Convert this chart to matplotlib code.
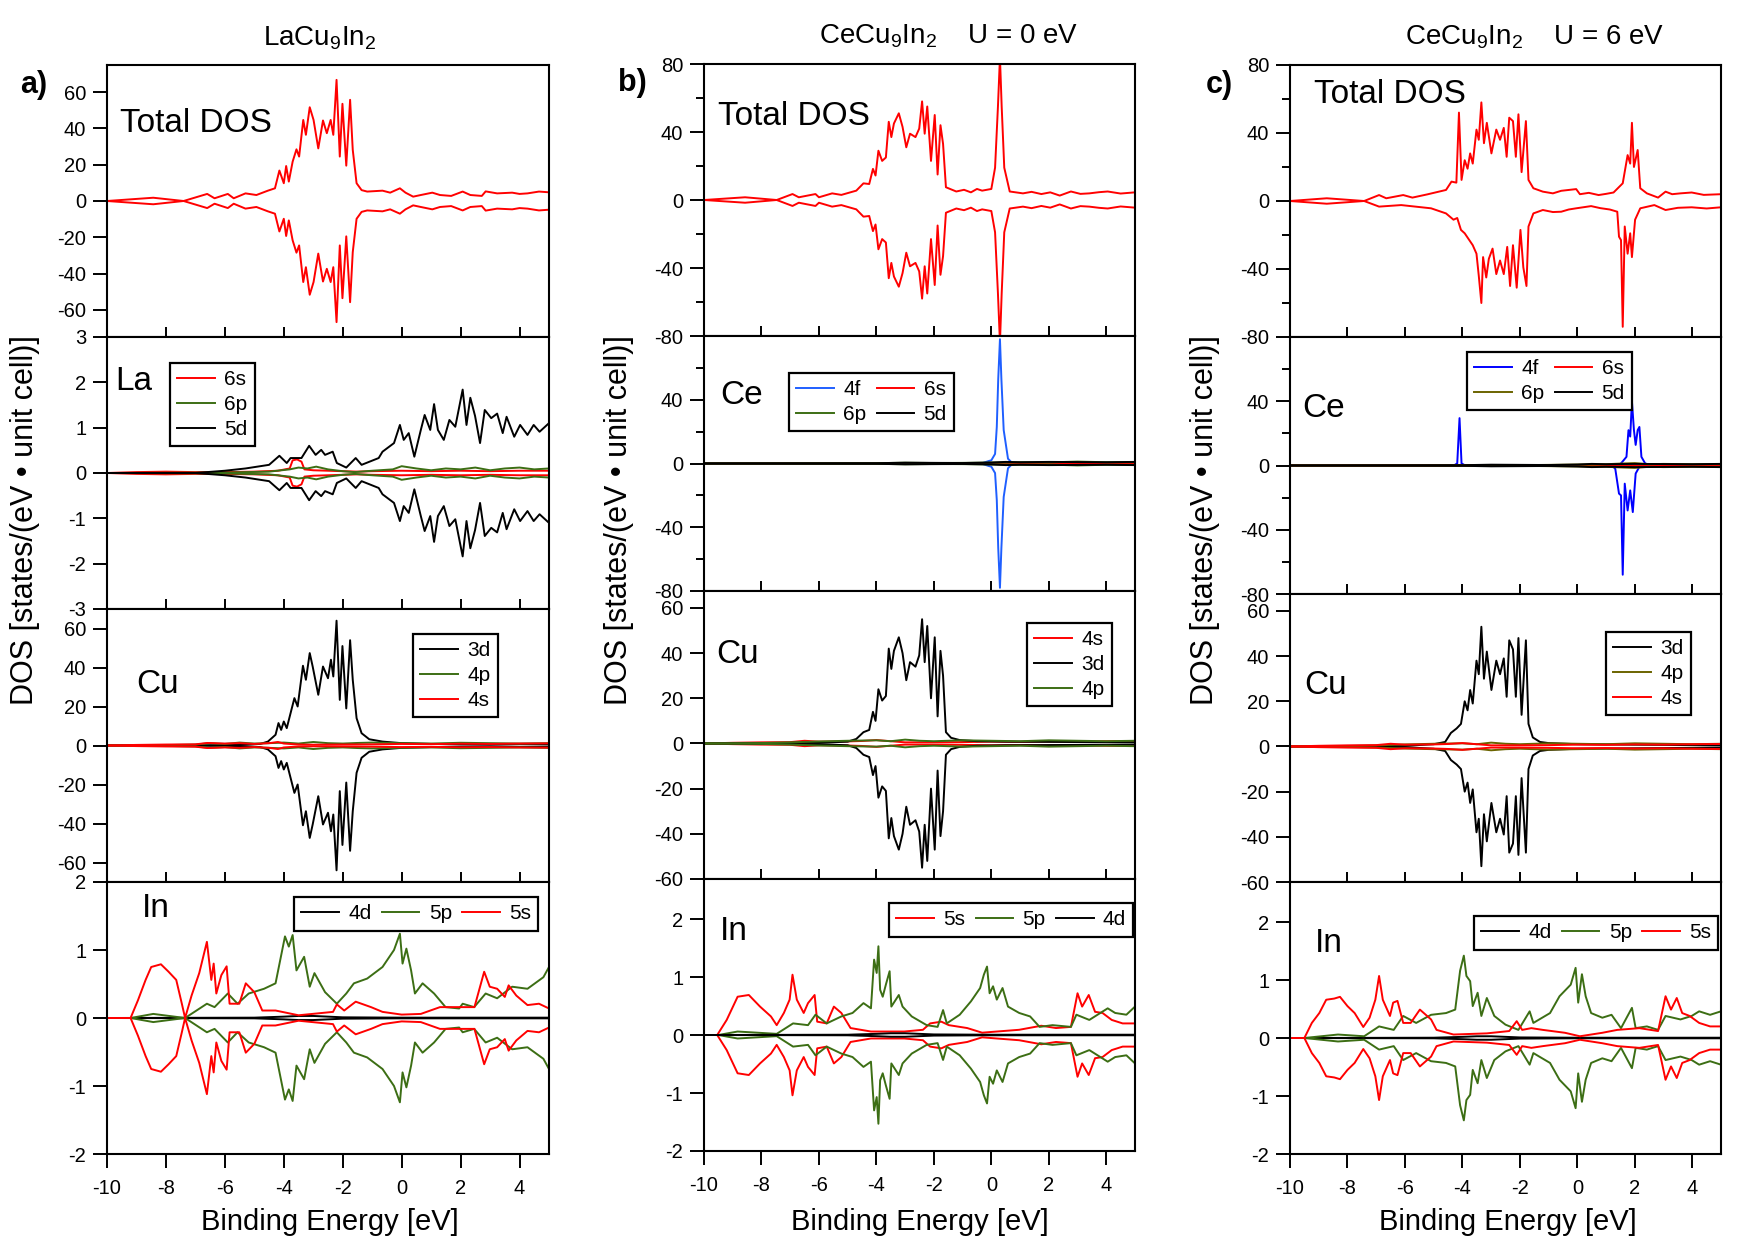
import numpy as np
import matplotlib
matplotlib.use("Agg")
import matplotlib.pyplot as plt

plt.rcParams['font.family'] = ['Liberation Sans', 'DejaVu Sans']
plt.rcParams['mathtext.fontset'] = 'custom'
plt.rcParams['mathtext.rm'] = 'Liberation Sans'
plt.rcParams['mathtext.default'] = 'regular'

# ---------------- data (binding energy in eV, DOS) ----------------
# a) LaCu9In2
A_E_TOT = [-10, -8.43, -7.4, -6.6, -6.35, -5.9, -5.7, -5.3, -4.93, -4.54, -4.3, -4.15, -4.0, -3.92, -3.83, -3.7,
           -3.57, -3.48, -3.34, -3.25, -3.12, -2.99, -2.83, -2.67, -2.54, -2.41, -2.32, -2.21, -2.1, -2.01, -1.88,
           -1.75, -1.66, -1.53, -1.36, -1.17, -0.65, -0.39, -0.06, 0.13, 0.39, 0.65, 1.04, 1.3, 1.68, 2.07, 2.33,
           2.72, 2.85, 3.24, 3.75, 4.0, 4.27, 4.66, 5]
A_TOT = [0, 1.8, 0, 3.9, 1.5, 3.9, 1.5, 4.2, 3.3, 5.7, 7, 16.8, 9.8, 19.3, 10.7, 21.7, 28.5, 24.5, 44.7, 36.5,
         51.7, 44.7, 29, 44.4, 37.4, 44.7, 36.5, 66.8, 24.5, 53.6, 19.5, 55.8, 28.2, 9.8, 6, 5.2, 5.7, 4.6, 7, 4.6,
         2.4, 3.3, 4.6, 3.3, 2.8, 5.2, 3.3, 2.8, 5.3, 4.2, 4.6, 3.9, 4.2, 5.2, 4.8]

A_E_LA5D = [-10, -7, -6, -5.3, -4.5, -4.15, -3.9, -3.77, -3.4, -3.14, -2.92, -2.73, -2.6, -2.34, -2.2, -1.88, -1.56,
            -1.36, -0.78, -0.65, -0.26, -0.06, 0.07, 0.24, 0.43, 0.65, 0.78, 0.97, 1.1, 1.23, 1.43, 1.62, 1.82, 2.07,
            2.2, 2.33, 2.49, 2.66, 2.82, 3.04, 3.24, 3.43, 3.56, 3.82, 4.02, 4.27, 4.48, 4.68, 5]
A_LA5D = [0, 0, 0.05, 0.1, 0.18, 0.38, 0.22, 0.33, 0.33, 0.6, 0.4, 0.51, 0.4, 0.47, 0.22, 0.12, 0.33, 0.18, 0.33,
          0.47, 0.66, 1.06, 0.73, 0.88, 0.36, 0.95, 1.28, 0.95, 1.52, 0.95, 0.73, 1.17, 1.02, 1.84, 1.06, 1.66, 1.26,
          0.66, 1.39, 1.21, 1.31, 0.88, 1.24, 0.8, 1.06, 0.84, 1.06, 0.91, 1.1]
A_E_LA6P = [-10, -6, -4.5, -3.8, -3.5, -3.2, -2.9, -2.5, -2.0, -1.6, -1.0, -0.3, 0.0, 0.5, 1.0, 1.5, 2.0, 2.5, 3.0,
            3.5, 4.0, 4.5, 5]
A_LA6P = [0, 0.01, 0.03, 0.08, 0.12, 0.1, 0.14, 0.08, 0.04, 0.02, 0.05, 0.08, 0.15, 0.1, 0.06, 0.1, 0.08, 0.12,
          0.06, 0.1, 0.12, 0.08, 0.1]
A_E_LA6S = [-10, -9, -8, -7, -6, -5, -4.2, -3.8, -3.7, -3.55, -3.4, -3.3, -3.0, -2.5, -2.0, -1.5, -1.0, 0, 1.0,
            2.0, 3.0, 4.0, 5]
A_LA6S = [0, 0.02, 0.03, 0.02, 0.02, 0.03, 0.05, 0.1, 0.28, 0.3, 0.25, 0.08, 0.06, 0.05, 0.04, 0.03, 0.04, 0.05,
          0.04, 0.05, 0.04, 0.05, 0.05]

A_E_CU3D = [-10, -7, -5.5, -4.8, -4.54, -4.28, -4.18, -4.09, -4.0, -3.9, -3.77, -3.64, -3.53, -3.35, -3.25, -3.12,
            -3.02, -2.83, -2.67, -2.5, -2.4, -2.32, -2.21, -2.1, -2.01, -1.88, -1.75, -1.66, -1.53, -1.36, -1.1,
            -0.65, 0, 1, 2, 3, 4, 5]
A_CU3D = [0, 0.1, 0.3, 0.8, 2, 5.5, 11.5, 8, 12.3, 8.9, 16.6, 24.3, 20, 40.9, 33.7, 47.4, 40.5, 26, 40.5, 34.5,
          44, 35.4, 64, 23.4, 51, 19, 54, 33.7, 14, 6.3, 3.2, 2, 1.2, 0.8, 0.6, 0.5, 0.7, 0.6]
A_E_CU4P = [-10, -8, -7, -6.5, -6, -5.5, -5, -4.5, -4, -3.5, -3, -2.5, -2, -1.5, -1, 0, 1, 2, 3, 4, 5]
A_CU4P = [0, 0.2, 0.5, 1.2, 0.8, 1.5, 1.0, 1.2, 1.5, 1.0, 1.8, 1.2, 1.0, 1.3, 1.5, 1.2, 1.0, 1.4, 1.2, 1.0, 1.2]
A_E_CU4S = [-10, -9, -8, -7, -6.6, -6, -5.5, -5, -4.5, -4.2, -4, -3.5, -3, -2, -1, 0, 1, 2, 3, 4, 5]
A_CU4S = [0, 0.3, 0.5, 0.6, 1.3, 1.0, 1.2, 0.8, 1.2, 1.8, 1.0, 0.5, 0.4, 0.5, 0.6, 0.8, 0.7, 0.9, 0.8, 1.0, 1.1]

A_E_IN5S = [-10, -9.2, -8.95, -8.69, -8.5, -8.17, -7.91, -7.65, -7.46, -7.35, -7.13, -6.87, -6.61, -6.46, -6.38,
            -6.29, -6.12, -5.94, -5.84, -5.51, -5.29, -5.0, -4.73, -4.28, -3.5, -2.33, -2.2, -1.95, -1.56, -1.04,
            -0.65, 0, 0.65, 1.3, 1.95, 2.47, 2.8, 2.99, 3.24, 3.5, 3.63, 3.89, 4.27, 4.66, 5]
A_IN5S = [0, 0, 0.26, 0.56, 0.75, 0.79, 0.68, 0.56, 0.21, 0, 0.33, 0.66, 1.12, 0.56, 0.8, 0.36, 0.63, 0.76, 0.21,
          0.21, 0.51, 0.38, 0.11, 0.11, 0.04, 0.09, 0.2, 0.11, 0.24, 0.16, 0.09, 0.05, 0.06, 0.16, 0.16, 0.16, 0.68,
          0.46, 0.43, 0.31, 0.48, 0.33, 0.19, 0.21, 0.14]
A_E_IN5P = [-10, -9.2, -8.43, -7.35, -6.61, -6.35, -5.9, -5.57, -5.19, -4.67, -4.28, -3.96, -3.83, -3.7, -3.57,
            -3.31, -3.12, -2.96, -2.6, -2.2, -1.88, -1.62, -1.17, -0.65, -0.26, -0.06, 0.03, 0.16, 0.32, 0.45, 0.71,
            1.1, 1.49, 1.95, 2.07, 2.46, 2.85, 3.24, 3.75, 4.27, 4.81, 5]
A_IN5P = [0, 0, 0.06, 0, 0.21, 0.16, 0.36, 0.21, 0.36, 0.43, 0.51, 1.2, 1.05, 1.22, 0.7, 0.9, 0.46, 0.66, 0.38,
          0.21, 0.36, 0.51, 0.58, 0.75, 1.0, 1.24, 0.8, 1.02, 0.7, 0.36, 0.51, 0.36, 0.16, 0.14, 0.21, 0.16, 0.36,
          0.29, 0.46, 0.43, 0.6, 0.75]
IN4D_E = [-10, -5, -4, -3.5, -3, -2.5, -2, 0, 5]
IN4D = [0, 0.005, 0.02, 0.03, 0.03, 0.02, 0.01, 0.005, 0.005]

# b) CeCu9In2, U = 0 eV
B_E_TOT = [-10, -8.57, -7.47, -6.92, -6.7, -6.12, -6.0, -5.54, -5.22, -4.7, -4.45, -4.25, -4.12, -4.03, -3.93,
           -3.8, -3.67, -3.57, -3.48, -3.39, -3.22, -3.09, -2.96, -2.83, -2.64, -2.51, -2.41, -2.32, -2.23, -2.1,
           -1.97, -1.87, -1.77, -1.68, -1.58, -1.22, -0.95, -0.71, -0.5, -0.32, 0, 0.13, 0.23, 0.3, 0.36, 0.45,
           0.64, 0.85, 1.1, 1.4, 1.74, 2.05, 2.38, 2.77, 3.1, 3.41, 3.75, 4.05, 4.5, 5]
B_TOT = [0, 1.6, 0, 3.5, 1.6, 3.5, 1.6, 3.9, 3, 5.5, 9.8, 9.4, 18.3, 14.4, 29, 23, 25, 46, 37, 45, 51, 43, 31, 39,
         37, 42, 58, 39, 55, 23, 50, 15, 44, 33, 7.5, 5, 6, 4.5, 6.5, 5.5, 6.5, 19, 55, 84, 55, 19, 5, 4.5, 3.9,
         4.8, 3.5, 4.5, 2.6, 5, 3.6, 3.9, 4.6, 5, 3.8, 4.5]

B_E_CE4F = [-10, -1, -0.3, -0.1, 0, 0.13, 0.19, 0.24, 0.3, 0.35, 0.43, 0.58, 0.71, 1, 5]
B_CE4F = [0, 0, 0.3, 1.5, 2, 6, 23, 53, 78, 53, 21, 3, 0.6, 0.2, 0]
B_E_CE6S = [-10, -2, 0, 2, 5]
B_CE6S = [0, 0.1, 0.2, 0.1, 0.1]
B_E_CE6P = [-10, -4, -3, -2, -1, 0, 1, 2, 3, 4, 5]
B_CE6P = [0, 0.2, 0.5, 0.3, 0.4, 0.6, 0.8, 0.7, 1.2, 0.8, 0.9]
B_E_CE5D = [-10, -4, -3, -2, -1, 0, 0.5, 1, 2, 3, 4, 5]
B_CE5D = [0, 0.2, 0.5, 0.4, 0.3, 0.6, 1.0, 0.8, 1.0, 0.9, 0.8, 1.0]

B_E_CU3D = [-10, -6, -5, -4.7, -4.45, -4.25, -4.12, -4.03, -3.93, -3.8, -3.67, -3.57, -3.48, -3.39, -3.22, -3.09,
            -2.96, -2.83, -2.64, -2.51, -2.41, -2.32, -2.23, -2.1, -1.97, -1.87, -1.77, -1.68, -1.58, -1.4, -1.1,
            -0.5, 0.5, 5]
B_CU3D = [0, 0.3, 0.8, 2, 5, 6, 14, 10, 24, 19, 21, 42, 33, 41, 47, 40, 28, 36, 34, 39, 55, 36, 52, 20, 47, 12,
          41, 30, 5, 2.5, 1.5, 1.0, 0.8, 0.5]
B_E_CU4S = [-10, -9, -8, -7, -6.5, -6, -5, -4.5, -4, -3, -2, -1, 0, 1, 2, 3, 4, 5]
B_CU4S = [0, 0.3, 0.5, 0.6, 1.2, 0.8, 0.9, 1.1, 1.5, 0.5, 0.5, 0.6, 0.8, 0.7, 0.9, 0.8, 1.0, 1.1]
B_E_CU4P = [-10, -8, -7, -6, -5, -4, -3.5, -3, -2.5, -2, -1, 0, 1, 2, 3, 4, 5]
B_CU4P = [0, 0.2, 0.5, 0.9, 1.2, 1.4, 1.0, 1.7, 1.2, 1.0, 1.4, 1.2, 1.0, 1.4, 1.2, 1.0, 1.2]

B_E_IN5S = [-10, -9.54, -9.21, -8.83, -8.44, -8.05, -7.67, -7.47, -7.22, -7.02, -6.92, -6.77, -6.53, -6.38, -6.15,
            -6.06, -5.73, -5.48, -5.22, -4.9, -4.19, -3.03, -2.38, -2.13, -1.74, -1.48, -0.84, -0.32, 0.19, 0.97,
            1.74, 2.25, 2.77, 3.0, 3.16, 3.39, 3.61, 3.87, 4.19, 4.57, 5]
B_IN5S = [0, 0, 0.26, 0.66, 0.69, 0.49, 0.32, 0.17, 0.38, 0.61, 1.04, 0.61, 0.38, 0.55, 0.69, 0.23, 0.2, 0.49,
          0.38, 0.12, 0.06, 0.06, 0.09, 0.2, 0.23, 0.17, 0.12, 0.04, 0.06, 0.09, 0.16, 0.12, 0.14, 0.72, 0.49, 0.69,
          0.4, 0.38, 0.26, 0.2, 0.2]
B_E_IN5P = [-10, -9.5, -8.83, -7.47, -6.9, -6.38, -6.12, -5.73, -5.22, -4.83, -4.45, -4.19, -4.08, -3.99, -3.93,
            -3.87, -3.78, -3.67, -3.54, -3.48, -3.22, -3.09, -2.77, -2.25, -1.87, -1.68, -1.55, -1.1, -0.71, -0.39,
            -0.26, -0.15, -0.06, 0.06, 0.19, 0.39, 0.58, 0.97, 1.35, 1.68, 2.13, 2.77, 2.96, 3.41, 4.05, 4.31, 4.7, 5]
B_IN5P = [0, 0, 0.06, 0.02, 0.2, 0.17, 0.35, 0.2, 0.32, 0.38, 0.55, 0.46, 1.3, 1.07, 1.53, 0.78, 0.66, 0.87, 1.1,
          0.49, 0.69, 0.49, 0.32, 0.17, 0.14, 0.43, 0.2, 0.35, 0.58, 0.81, 1.04, 1.18, 0.72, 0.84, 0.61, 0.81, 0.49,
          0.38, 0.32, 0.14, 0.17, 0.14, 0.35, 0.26, 0.46, 0.38, 0.35, 0.49]

# c) CeCu9In2, U = 6 eV (spin up and spin down differ)
C_E_TOT_UP = [-10, -8.72, -7.42, -6.9, -6.65, -6.06, -5.74, -5.22, -4.57, -4.38, -4.21, -4.12, -4.03, -3.92, -3.82,
              -3.73, -3.64, -3.51, -3.43, -3.34, -3.25, -3.15, -2.99, -2.82, -2.69, -2.56, -2.46, -2.37, -2.24,
              -2.14, -2.05, -1.94, -1.79, -1.7, -1.53, -1.2, -0.85, -0.56, -0.3, -0.04, 0.09, 0.4, 0.74, 1.0, 1.26,
              1.58, 1.75, 1.84, 1.9, 1.97, 2.1, 2.19, 2.42, 2.81, 3.07, 3.3, 3.59, 3.98, 4.4, 5]
C_TOT_UP = [0, 1.6, 0, 3.5, 1.6, 3.5, 2, 3.9, 6.5, 11.4, 10.8, 52, 12.4, 24, 19, 28, 22, 42, 36, 58, 34, 46, 28,
            42, 36, 43, 26, 49, 47, 26, 51, 17, 47, 12.4, 7.5, 5.5, 4.5, 6, 6.5, 7, 4, 4.8, 3.5, 4.2, 5, 10.4, 27, 22,
            46, 20, 30, 7.5, 4.5, 2, 5.5, 4, 4.5, 5, 3.6, 4]
C_E_TOT_DN = [-10, -8.72, -7.42, -6.9, -6.13, -5.09, -4.57, -4.31, -4.18, -4.05, -3.92, -3.8, -3.64, -3.51, -3.43,
              -3.34, -3.28, -3.17, -3.08, -2.95, -2.82, -2.69, -2.56, -2.44, -2.34, -2.24, -2.11, -1.98, -1.88,
              -1.77, -1.7, -1.53, -1.2, -0.85, -0.56, -0.3, -0.04, 0.48, 0.8, 1.13, 1.39, 1.45, 1.52, 1.58, 1.65,
              1.75, 1.84, 1.9, 2.01, 2.19, 2.68, 3.07, 3.5, 3.98, 4.5, 5]
C_TOT_DN = [0, -1.6, 0, -3.3, -2.4, -4.3, -7.3, -11, -10, -17, -19, -22, -26, -31, -44, -60, -33, -45, -34, -28,
            -43, -35, -43, -27, -50, -26, -51, -17, -39, -50, -15, -7.3, -5.3, -6.5, -6.3, -5, -4.3, -3, -4.2, -5,
            -6.3, -21, -23, -74, -15, -31, -19, -33, -11, -4.3, -2.4, -5.3, -4, -3.7, -4.4, -3.7]

C_E_CE4F_UP = [-10, -4.3, -4.18, -4.1, -4.03, -3.9, 1.4, 1.52, 1.71, 1.78, 1.84, 1.9, 1.97, 2.03, 2.1, 2.16, 2.23,
               2.36, 2.6, 5]
C_CE4F_UP = [0, 0, 1.3, 29.5, 1.3, 0, 0, 1.3, 5.4, 22, 18, 40, 22, 12.8, 22, 24, 5.4, 1.3, 0, 0]
C_E_CE4F_DN = [-10, 1.2, 1.32, 1.45, 1.52, 1.58, 1.65, 1.75, 1.84, 1.93, 2.03, 2.16, 2.4, 5]
C_CE4F_DN = [0, 0, -2, -17.5, -18.6, -68, -11.3, -28, -15.5, -29, -5, -0.8, 0, 0]
C_E_CE6P = [-10, -2, -1, 0, 1, 1.5, 2, 2.5, 3, 4, 5]
C_CE6P = [0, 0.2, 0.4, 0.6, 0.8, 1.2, 1.5, 0.8, 1.0, 0.8, 0.9]

C_E_CU3D = [-10, -6, -5, -4.6, -4.4, -4.2, -4.05, -3.92, -3.82, -3.73, -3.64, -3.51, -3.43, -3.34, -3.25, -3.15,
            -2.99, -2.82, -2.69, -2.56, -2.46, -2.37, -2.24, -2.14, -2.05, -1.94, -1.79, -1.7, -1.55, -1.3, -1.0,
            0, 5]
C_CU3D = [0, 0.3, 1, 2, 6, 8, 10, 20, 16, 25, 19, 38, 32, 53, 30, 42, 25, 38, 32, 39, 22, 47, 43, 22, 48, 14, 47,
          10, 4, 2, 1.5, 1, 0.5]

C_E_IN5S = [-10, -9.5, -9.24, -8.98, -8.74, -8.46, -8.26, -8.0, -7.75, -7.45, -7.23, -7.03, -6.9, -6.77, -6.52,
            -6.41, -6.26, -6.06, -5.8, -5.48, -5.09, -4.9, -4.31, -3.15, -2.37, -2.11, -1.92, -1.6, -1.2, -0.43,
            0.09, 0.87, 1.39, 2.16, 2.81, 3.07, 3.26, 3.46, 3.65, 3.91, 4.24, 4.62, 5]
C_IN5S = [0, 0, 0.26, 0.43, 0.66, 0.68, 0.71, 0.55, 0.43, 0.19, 0.35, 0.66, 1.07, 0.66, 0.38, 0.61, 0.64, 0.26,
          0.26, 0.49, 0.32, 0.14, 0.06, 0.08, 0.12, 0.29, 0.14, 0.17, 0.14, 0.09, 0.03, 0.09, 0.14, 0.17, 0.12,
          0.72, 0.49, 0.69, 0.43, 0.38, 0.26, 0.2, 0.2]
C_E_IN5P = [-10, -9.5, -8.33, -7.42, -6.9, -6.39, -6.06, -5.61, -5.09, -4.57, -4.25, -4.08, -3.95, -3.86, -3.73,
            -3.64, -3.47, -3.34, -3.15, -2.89, -2.5, -2.05, -1.66, -1.53, -0.95, -0.62, -0.23, -0.06, 0.03, 0.16,
            0.29, 0.48, 0.87, 1.19, 1.52, 1.9, 2.03, 2.42, 2.81, 3.07, 3.59, 3.98, 4.24, 4.62, 5]
C_IN5P = [0, 0, 0.06, 0.03, 0.2, 0.14, 0.38, 0.26, 0.4, 0.43, 0.49, 1.16, 1.42, 1.07, 0.98, 0.55, 0.78, 0.38,
          0.69, 0.38, 0.23, 0.14, 0.46, 0.26, 0.43, 0.72, 0.92, 1.21, 0.61, 1.1, 0.72, 0.43, 0.35, 0.4, 0.17, 0.52,
          0.17, 0.2, 0.14, 0.38, 0.32, 0.38, 0.46, 0.4, 0.46]

X_TICKS = [-10, -8, -6, -4, -2, 0, 2, 4]

RED = '#ff0000'
GREEN = '#3c6e14'
OLIVE = '#6b6400'
BLUE_B = '#1f5fff'
BLUE_C = '#0000ff'

# ---------------- layout (pixel geometry of the original) ----------------
W, H = 1755, 1246
fig = plt.figure(figsize=(W / 100, H / 100), dpi=100)


def box(x0, x1, y0, y1):
    return fig.add_axes([x0 / W, 1 - y1 / H, (x1 - x0) / W, (y1 - y0) / H])


def ftext(x, y, s, **kw):
    fig.text(x / W, 1 - y / H, s, **kw)


def style(ax, ylim, yticks, yminor=None, bottom=False):
    ax.set_xlim(-10, 5)
    ax.set_ylim(*ylim)
    ax.set_xticks(X_TICKS)
    ax.set_yticks(yticks)
    if yminor:
        ax.set_yticks(yminor, minor=True)
    ax.set_yticklabels([str(t) for t in yticks])
    for sp in ax.spines.values():
        sp.set_linewidth(1.5)
    ax.tick_params(axis='y', direction='out', length=10, width=1.4, labelsize=14.5, pad=5)
    ax.tick_params(axis='y', which='minor', direction='out', length=6, width=1.4)
    if bottom:
        ax.tick_params(axis='x', direction='out', length=10, width=1.4, labelsize=14.5, pad=8)
        ax.set_xticklabels([str(t) for t in X_TICKS])
    else:
        ax.tick_params(axis='x', direction='inout', length=14, width=1.4, labelbottom=False)


def pdos(ax, e, up, color, dn_e=None, dn=None, label=None):
    line, = ax.plot(e, up, color=color, lw=1.4, label=label)
    if dn is None:
        ax.plot(e, -np.array(up), color=color, lw=1.4)
    else:
        ax.plot(dn_e, dn, color=color, lw=1.4)
    return line


def legend(ax, x, y, ncol=1, order=None):
    h, l = ax.get_legend_handles_labels()
    if order:
        h = [h[i] for i in order]
        l = [l[i] for i in order]
    leg = ax.legend(h, l, loc='upper left', bbox_to_anchor=(x / W, 1 - y / H), bbox_transform=fig.transFigure,
                    ncol=ncol, fontsize=15, frameon=True, fancybox=False, framealpha=1, borderaxespad=0,
                    handlelength=1.8, handletextpad=0.45, labelspacing=0.28, columnspacing=0.5, borderpad=0.35)
    leg.get_frame().set_edgecolor('black')
    leg.get_frame().set_linewidth(1.6)


def name(x, y, s):
    ftext(x, y, s, fontsize=24, va='baseline', ha='left')


# ---------------- panel a ----------------
ax = box(107, 549, 65, 337)
pdos(ax, A_E_TOT, A_TOT, RED)
style(ax, (-75, 75), [-60, -40, -20, 0, 20, 40, 60])
name(120, 132, 'Total DOS')

ax = box(107, 549, 337, 609)
pdos(ax, A_E_LA6S, A_LA6S, RED, label='6s')
pdos(ax, A_E_LA6P, A_LA6P, GREEN, label='6p')
pdos(ax, A_E_LA5D, A_LA5D, 'black', label='5d')
style(ax, (-3, 3), [-3, -2, -1, 0, 1, 2, 3])
legend(ax, 170, 363)
name(115, 390, 'La')

ax = box(107, 549, 609, 882)
pdos(ax, A_E_CU3D, A_CU3D, 'black', label='3d')
pdos(ax, A_E_CU4P, A_CU4P, GREEN, label='4p')
pdos(ax, A_E_CU4S, A_CU4S, RED, label='4s')
style(ax, (-70, 70), [-60, -40, -20, 0, 20, 40, 60])
legend(ax, 413, 634)
name(136, 693, 'Cu')

ax = box(107, 549, 882, 1154)
pdos(ax, IN4D_E, IN4D, 'black', label='4d')
pdos(ax, A_E_IN5P, A_IN5P, GREEN, label='5p')
pdos(ax, A_E_IN5S, A_IN5S, RED, label='5s')
style(ax, (-2, 2), [-2, -1, 0, 1, 2], bottom=True)
legend(ax, 294, 897, ncol=3)
name(142, 917, 'In')

# ---------------- panel b ----------------
ax = box(704, 1135, 64, 336)
pdos(ax, B_E_TOT, B_TOT, RED)
style(ax, (-80, 80), [-80, -40, 0, 40, 80], yminor=[-60, -20, 20, 60])
name(718, 125, 'Total DOS')

ax = box(704, 1135, 336, 591)
pdos(ax, B_E_CE4F, B_CE4F, BLUE_B, label='4f')
pdos(ax, B_E_CE6S, B_CE6S, RED, label='6s')
pdos(ax, B_E_CE6P, B_CE6P, GREEN, label='6p')
pdos(ax, B_E_CE5D, B_CE5D, 'black', label='5d')
style(ax, (-80, 80), [-80, -40, 0, 40], yminor=[-60, -20, 20, 60])
legend(ax, 789, 373, ncol=2, order=[0, 2, 1, 3])
name(720, 404, 'Ce')

ax = box(704, 1135, 591, 879)
pdos(ax, B_E_CU4S, B_CU4S, RED, label='4s')
pdos(ax, B_E_CU3D, B_CU3D, 'black', label='3d')
pdos(ax, B_E_CU4P, B_CU4P, GREEN, label='4p')
style(ax, (-60, 67.5), [-60, -40, -20, 0, 20, 40, 60])
legend(ax, 1027, 623)
name(716, 663, 'Cu')

ax = box(704, 1135, 879, 1151)
pdos(ax, B_E_IN5S, B_IN5S, RED, label='5s')
pdos(ax, B_E_IN5P, B_IN5P, GREEN, label='5p')
pdos(ax, IN4D_E, IN4D, 'black', label='4d')
style(ax, (-2, 2.69), [-2, -1, 0, 1, 2], bottom=True)
legend(ax, 889, 903, ncol=3)
name(720, 940, 'In')

# ---------------- panel c ----------------
ax = box(1290, 1721, 65, 337)
pdos(ax, C_E_TOT_UP, C_TOT_UP, RED, C_E_TOT_DN, C_TOT_DN)
style(ax, (-80, 80), [-80, -40, 0, 40, 80], yminor=[-60, -20, 20, 60])
name(1314, 103, 'Total DOS')

ax = box(1290, 1721, 337, 594)
pdos(ax, C_E_CE4F_UP, C_CE4F_UP, BLUE_C, C_E_CE4F_DN, C_CE4F_DN, label='4f')
pdos(ax, B_E_CE6S, B_CE6S, RED, label='6s')
pdos(ax, C_E_CE6P, C_CE6P, OLIVE, label='6p')
pdos(ax, B_E_CE5D, B_CE5D, 'black', label='5d')
style(ax, (-80, 80), [-80, -40, 0, 40], yminor=[-60, -20, 20, 60])
legend(ax, 1467, 352, ncol=2, order=[0, 2, 1, 3])
name(1302, 417, 'Ce')

ax = box(1290, 1721, 594, 882)
pdos(ax, C_E_CU3D, C_CU3D, 'black', label='3d')
pdos(ax, B_E_CU4P, B_CU4P, OLIVE, label='4p')
pdos(ax, B_E_CU4S, B_CU4S, RED, label='4s')
style(ax, (-60, 67.5), [-60, -40, -20, 0, 20, 40, 60])
legend(ax, 1606, 632)
name(1304, 694, 'Cu')

ax = box(1290, 1721, 882, 1154)
pdos(ax, IN4D_E, IN4D, 'black', label='4d')
pdos(ax, C_E_IN5P, C_IN5P, GREEN, label='5p')
pdos(ax, C_E_IN5S, C_IN5S, RED, label='5s')
style(ax, (-2, 2.69), [-2, -1, 0, 1, 2], bottom=True)
legend(ax, 1474, 916, ncol=3)
name(1315, 952, 'In')

# ---------------- titles, panel letters, axis labels ----------------
ftext(320, 38, r'LaCu$_9$In$_2$', fontsize=20, ha='center', va='center')
ftext(949, 36, r'CeCu$_9$In$_2$    U = 0 eV', fontsize=20, ha='center', va='center')
ftext(1535, 37, r'CeCu$_9$In$_2$    U = 6 eV', fontsize=20, ha='center', va='center')
ftext(34, 85, 'a)', fontsize=22, fontweight='bold', ha='center', va='center')
ftext(632, 83, 'b)', fontsize=22, fontweight='bold', ha='center', va='center')
ftext(1219, 85, 'c)', fontsize=22, fontweight='bold', ha='center', va='center')

ylab = 'DOS [states/(eV \u2022 unit cell)]'
for x in (25, 619, 1205):
    ftext(x, 520, ylab, fontsize=22, rotation=90, ha='center', va='center')
for x in (330, 920, 1508):
    ftext(x, 1222, 'Binding Energy [eV]', fontsize=21, ha='center', va='center')

fig.savefig('out.png', dpi=100)
